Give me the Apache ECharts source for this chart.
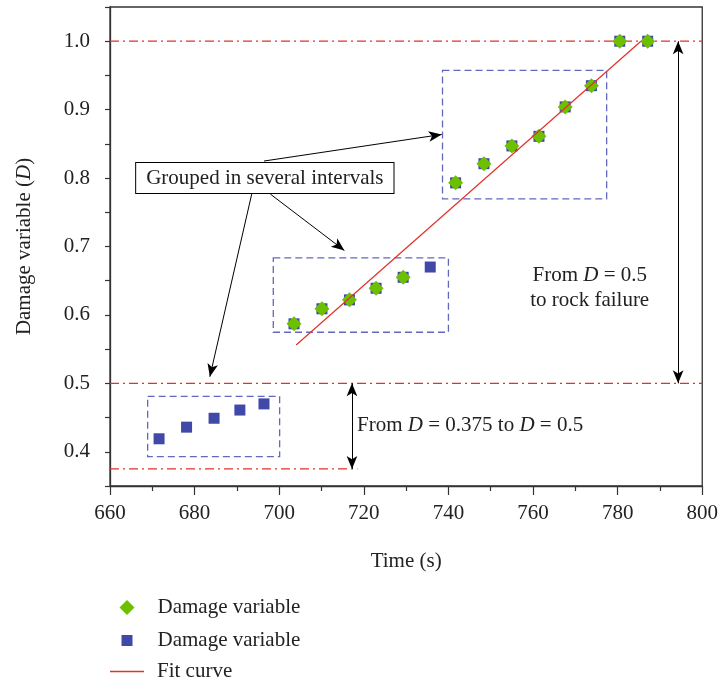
<!DOCTYPE html>
<html><head><meta charset="utf-8">
<script src="https://cdn.jsdelivr.net/npm/echarts@6/dist/echarts.min.js"></script>
<style>html,body{margin:0;padding:0;background:#fff}#c{width:721px;height:684px}</style>
</head><body><div id="c"></div>
<script>
// ---- data ----
const blueX = [671.6, 678.1, 684.6, 690.7, 696.4, 703.5, 710.1, 716.6, 722.9, 729.3, 735.7, 741.7, 748.4, 755.0, 761.4, 767.6, 773.8, 780.5, 787.1];
const blueY = [0.419, 0.436, 0.449, 0.461, 0.470, 0.587, 0.609, 0.622, 0.639, 0.655, 0.670, 0.793, 0.821, 0.847, 0.861, 0.904, 0.935, 1.000, 1.000];
const greenX = [703.5, 710.1, 716.6, 722.9, 729.3, 741.7, 748.4, 755.0, 761.4, 767.6, 773.8, 780.5, 787.1];
const greenY = [0.587, 0.609, 0.622, 0.639, 0.655, 0.793, 0.821, 0.847, 0.861, 0.904, 0.935, 1.000, 1.000];
const fitX = [704.0, 785.5];
const fitY = [0.556, 1.000];
const legendNames = ['Damage variable', 'Damage variable', 'Fit curve'];
const refLevels = [1.0, 0.5, 0.375];
const refEnds = [800, 800, 718.5];
// group boxes: [x0, y0, x1, y1]
const groupBoxes = [[668.9, 0.481, 700.1, 0.393], [698.6, 0.6835, 740.0, 0.5747], [738.6, 0.9575, 777.4, 0.7697]];
// pointer arrows: [fromX, fromY, toX, toY]
const pointers = [[696.4, 0.8249, 738.4, 0.8637], [697.9, 0.7766, 715.4, 0.6942], [693.5, 0.7766, 683.6, 0.5096]];
const rangeArrows = [[794.3, 1.0, 794.3, 0.5], [717.2, 0.5, 717.2, 0.375]];

const FONT = 'Liberation Serif';
const FS = 21;
const red = '#e3302a';
const blue = '#4048a8';
const green = '#6cc000';
const boxBlue = '#6168bd';
const txt = '#222';
const X_MIN = 660, X_MAX = 800;

const zip = (xs, ys) => xs.map((x, i) => [x, ys[i]]);

const chart = echarts.init(document.getElementById('c'), null, {renderer: 'canvas'});

const blackStyle = {color: '#000', width: 1, type: 'solid'};
const ptrLines = pointers.map(p => [
  {coord: [p[0], p[1]], symbol: 'none', lineStyle: blackStyle},
  {coord: [p[2], p[3]], symbol: 'arrow', symbolSize: [8, 13], lineStyle: blackStyle}
]);
const rngLines = rangeArrows.map(p => [
  {coord: [p[0], p[1]], symbol: 'arrow', symbolSize: [8, 13], lineStyle: blackStyle},
  {coord: [p[2], p[3]], symbol: 'arrow', symbolSize: [8, 13], lineStyle: blackStyle}
]);

const refSeries = refLevels.map((v, i) => ({
  name: 'ref' + i, type: 'line', data: [[X_MIN, v], [refEnds[i], v]], symbol: 'none', z: 2, silent: true,
  lineStyle: {color: red, width: 1.2, type: [9, 4, 2, 4]}, itemStyle: {color: red},
  emphasis: {disabled: true}
}));

const legendText = {fontFamily: FONT, fontSize: FS, color: txt};

const option = {
  animation: false,
  backgroundColor: '#fff',
  textStyle: {fontFamily: FONT},
  grid: {left: 110, right: 17, top: 7, bottom: 198, show: true, borderColor: '#333', borderWidth: 1.3},
  xAxis: {
    type: 'value', min: X_MIN, max: X_MAX, interval: 20,
    name: 'Time (s)', nameLocation: 'middle', nameGap: 65,
    nameTextStyle: {fontFamily: FONT, fontSize: FS, color: txt},
    axisLine: {show: true, lineStyle: {color: '#333', width: 1.3}},
    axisTick: {show: true, length: 9, lineStyle: {color: '#333', width: 1.2}},
    minorTick: {show: true, splitNumber: 2, length: 5, lineStyle: {color: '#333', width: 1.2}},
    axisLabel: {fontFamily: FONT, fontSize: FS, color: txt, margin: 17},
    splitLine: {show: false}
  },
  yAxis: {
    type: 'value', min: 0.35, max: 1.05, interval: 0.05,
    name: 'Damage variable ({i|D})', nameLocation: 'middle', nameGap: 75,
    nameTextStyle: {fontFamily: FONT, fontSize: FS, color: txt,
      rich: {i: {fontStyle: 'italic', fontFamily: FONT, fontSize: FS, color: txt}}},
    axisLine: {show: true, lineStyle: {color: '#333', width: 1.3}},
    axisTick: {show: true, length: 5, lineStyle: {color: '#333', width: 1.2}},
    axisLabel: {fontFamily: FONT, fontSize: FS, color: txt, margin: 20,
      formatter: v => (Math.abs(v * 10 - Math.round(v * 10)) < 1e-6 && v > 0.36 && v < 1.04) ? v.toFixed(1) : ''},
    splitLine: {show: false}
  },
  legend: [
    {orient: 'vertical', left: 114.5, top: 592, itemWidth: 15, itemHeight: 15,
      data: [{name: 'dv1', icon: 'diamond'}], formatter: () => legendNames[0],
      textStyle: Object.assign({padding: [0, 0, 0, 18]}, legendText)},
    {orient: 'vertical', left: 116.5, top: 625, itemWidth: 11, itemHeight: 11,
      data: [{name: 'dv2', icon: 'rect'}], formatter: () => legendNames[1],
      textStyle: Object.assign({padding: [0, 0, 0, 20]}, legendText)},
    {orient: 'vertical', left: 105, top: 656, itemWidth: 34, itemHeight: 1.5,
      data: [{name: 'fit', icon: 'rect'}], formatter: () => legendNames[2],
      textStyle: Object.assign({padding: [0, 0, 0, 8]}, legendText)}
  ],
  series: refSeries.concat([
    {
      name: 'annot', type: 'line', data: [], z: 1, silent: true,
      markArea: {
        silent: true,
        itemStyle: {color: 'rgba(0,0,0,0)', borderColor: boxBlue, borderWidth: 1.3, borderType: [7, 4]},
        data: groupBoxes.map(b => [{coord: [b[0], b[1]]}, {coord: [b[2], b[3]]}])
      }
    },
    {
      name: 'annot2', type: 'line', data: [], z: 6, silent: true, color: '#000',
      markLine: {
        silent: true, animation: false, label: {show: false},
        emphasis: {disabled: true},
        data: ptrLines.concat(rngLines),
        lineStyle: blackStyle
      }
    },
    {
      name: 'dv2', type: 'scatter', data: zip(blueX, blueY), symbol: 'rect', symbolSize: 11, z: 3,
      itemStyle: {color: blue, opacity: 1}
    },
    {
      name: 'dv1', type: 'scatter', data: zip(greenX, greenY), symbol: 'diamond', symbolSize: 15, z: 4,
      itemStyle: {color: green, opacity: 1}
    },
    {
      name: 'fit', type: 'line', data: zip(fitX, fitY), symbol: 'none', z: 5,
      lineStyle: {color: red, width: 1.2}, itemStyle: {color: red}
    }
  ])
};
chart.setOption(option);

const px = (x, y) => chart.convertToPixel({gridIndex: 0}, [x, y]);
const richI = {i: {fontStyle: 'italic', fontFamily: FONT, fontSize: FS, color: txt}, n: {fontFamily: FONT, fontSize: FS, color: txt}};
const p1 = px(696.6, 0.80);
const p2 = px(773.4, 0.64);
const p3 = px(718.4, 0.4385);
chart.setOption({
  graphic: [
    {type: 'text', x: p1[0], y: p1[1], z: 10,
      style: {text: 'Grouped in several intervals', font: FS + 'px ' + FONT, fill: txt,
        align: 'center', verticalAlign: 'middle', backgroundColor: '#fff',
        borderColor: '#000', borderWidth: 1, padding: [5, 10, 4, 10]}},
    {type: 'text', x: p2[0], y: p2[1], z: 10,
      style: {text: '{n|From }{i|D}{n| = 0.5}\n{n|to rock failure}', rich: richI, lineHeight: 25,
        align: 'center', verticalAlign: 'middle', fill: txt, font: FS + 'px ' + FONT}},
    {type: 'text', x: p3[0], y: p3[1], z: 10,
      style: {text: '{n|From }{i|D}{n| = 0.375 to }{i|D}{n| = 0.5}', rich: richI,
        align: 'left', verticalAlign: 'middle', fill: txt, font: FS + 'px ' + FONT}}
  ]
});
</script></body></html>
